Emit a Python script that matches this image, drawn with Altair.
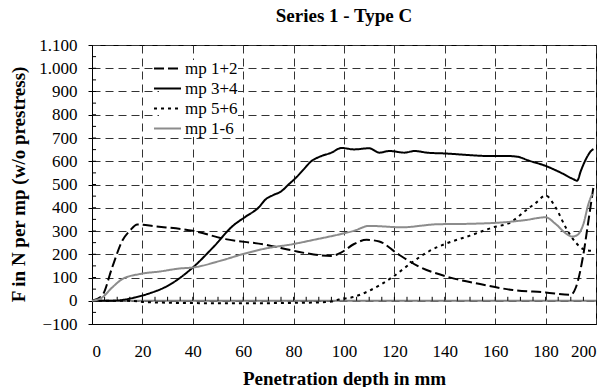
import altair as alt
import pandas as pd

# ---------------- data ----------------
series_names = ["mp 1+2", "mp 3+4", "mp 5+6", "mp 1-6"]

mp12_x = [0, 4, 8, 12, 15, 18, 25, 40, 53, 69, 80, 88, 95, 99, 104, 109, 114, 121, 129, 141, 154, 167, 180, 190, 192, 195, 197, 199]
mp12_y = [0, 22, 143, 258, 301, 328, 320, 301, 265, 241, 215, 199, 193, 208, 244, 262, 255, 204, 151, 103, 72, 46, 36, 26, 57, 200, 344, 490]

mp34_x = [0, 8, 17, 22, 30, 40, 48, 56, 61, 66, 69, 72, 75, 78, 81, 84, 87, 90, 95, 99, 104, 110, 114, 118, 124, 128, 133, 141, 149, 156, 164, 169, 173, 180, 186, 191, 192.5, 194, 196, 198, 199]
mp34_y = [0, 0, 14, 29, 64, 143, 229, 323, 362, 400, 437, 455, 470, 500, 530, 565, 600, 618, 637, 657, 651, 656, 637, 644, 637, 644, 637, 633, 627, 623, 623, 619, 604, 580, 551, 523, 516, 559, 609, 644, 652]

mp56_x = [0, 10, 18, 20, 40, 60, 80, 90, 95, 98, 104, 110, 119, 127, 134, 141, 150, 159, 166, 172, 176, 180, 184, 188, 192, 195, 198]
mp56_y = [0, 0, -2, -5, -10, -11, -9, -7, -3, 5, 17, 43, 100, 165, 215, 248, 280, 315, 337, 387, 420, 452, 401, 315, 250, 222, 215]

mp16_x = [0, 4, 8, 12, 19, 27, 35, 40, 51, 60, 69, 80, 88, 98, 104, 110, 123, 137, 150, 163, 172, 180, 184, 188, 190.5, 192.5, 195, 197, 198.5]
mp16_y = [0, 14, 57, 93, 115, 126, 139, 143, 172, 201, 225, 244, 262, 285, 301, 322, 316, 329, 331, 337, 347, 359, 330, 290, 276, 282, 330, 416, 460]

x_tick_values = list(range(0, 201, 20))
y_tick_values = list(range(-100, 1101, 100))
y_minor_ticks = list(range(-50, 1100, 50))
x_minor_ticks = list(range(5, 200, 5))

series_colors = ["#000000", "#000000", "#000000", "#8c8c8c"]
series_dashes = [[10, 4], [1, 0], [3, 4], [1, 0]]

# ---------------- tables ----------------
rows = []
for name, xs, ys in zip(series_names, [mp12_x, mp34_x, mp56_x, mp16_x], [mp12_y, mp34_y, mp56_y, mp16_y]):
    for i, (xv, yv) in enumerate(zip(xs, ys)):
        rows.append({"series": name, "depth": xv, "force": yv, "order": i})
df = pd.DataFrame(rows)

zero_df = pd.DataFrame({"force": [0]})
ymin_df = pd.DataFrame({"force": y_minor_ticks, "depth": [0] * len(y_minor_ticks), "depth2": [1.6] * len(y_minor_ticks)})
xmin_df = pd.DataFrame({"depth": x_minor_ticks, "force": [0] * len(x_minor_ticks), "force2": [17] * len(x_minor_ticks)})

FONT = "Liberation Serif, Times New Roman, serif"
x_scale = alt.Scale(domain=[0, 200], nice=False, zero=False)
y_scale = alt.Scale(domain=[-100, 1100], nice=False, zero=False)

x_axis = alt.Axis(
    values=x_tick_values, title="Penetration depth in mm", grid=True,
    gridDash=[8, 5], gridColor="#333333", gridWidth=1,
    ticks=False, domain=True, domainColor="#000000",
    labelFont=FONT, labelFontSize=17, labelColor="#000000",
    labelBaseline="alphabetic", labelPadding=32,
    titleFont=FONT, titleFontSize=19, titleFontWeight="bold", titleColor="#000000",
    titleBaseline="alphabetic", titleY=60,
)
y_axis = alt.Axis(
    values=y_tick_values, title="F in N per mp (w/o prestress)", grid=True,
    gridDash=[8, 5], gridColor="#333333", gridWidth=1,
    ticks=True, tickSize=4, tickColor="#000000", domain=True, domainColor="#000000",
    labelFont=FONT, labelFontSize=17, labelColor="#000000", labelPadding=11,
    labelExpr="replace(format(datum.value, ','), ',', '.')",
    titleFont=FONT, titleFontSize=19, titleFontWeight="bold", titleColor="#000000",
    titleX=-68, titleY=139, titleAngle=-90, titleBaseline="alphabetic",
)

zero_line = alt.Chart(zero_df).mark_rule(color="#808080", strokeWidth=2).encode(
    y=alt.Y("force:Q", scale=y_scale, axis=y_axis)
)
y_ticks_in = alt.Chart(ymin_df).mark_rule(color="#000000", strokeWidth=1).encode(
    x=alt.X("depth:Q", scale=x_scale, axis=x_axis), x2="depth2:Q",
    y=alt.Y("force:Q", scale=y_scale, axis=y_axis),
)
x_ticks_in = alt.Chart(xmin_df).mark_rule(color="#000000", strokeWidth=1).encode(
    x=alt.X("depth:Q", scale=x_scale, axis=x_axis),
    y=alt.Y("force:Q", scale=y_scale, axis=y_axis), y2="force2:Q",
)

legend = alt.Legend(title=None)
lines = alt.Chart(df).mark_line(strokeWidth=2, interpolate="monotone").encode(
    x=alt.X("depth:Q", scale=x_scale, axis=x_axis),
    y=alt.Y("force:Q", scale=y_scale, axis=y_axis),
    color=alt.Color("series:N", scale=alt.Scale(domain=series_names, range=series_colors), legend=legend),
    strokeDash=alt.StrokeDash("series:N", scale=alt.Scale(domain=series_names, range=series_dashes), legend=legend),
    order="order:Q",
)

chart = alt.layer(zero_line, y_ticks_in, x_ticks_in, lines).properties(
    width=504, height=279,
    autosize=alt.AutoSizeParams(type="none"),
    padding={"left": 92, "top": 45, "right": 15, "bottom": 63},
    title=alt.Title("Series 1 - Type C", font=FONT, fontSize=19, fontWeight="bold",
                    color="#000000", anchor="middle", baseline="alphabetic", offset=19, dy=24),
    background="#ffffff",
).configure(
    font=FONT
).configure_view(
    stroke="#000000", strokeWidth=1
).configure_legend(
    orient="none", legendX=67, legendY=15, padding=0, fillColor="#ffffff",
    symbolType="M-2,0H2", symbolSize=182, symbolStrokeWidth=2, symbolFillColor="transparent",
    labelFont=FONT, labelFontSize=17, labelColor="#000000", labelOffset=9,
    rowPadding=2, labelLimit=200,
)

chart.save("out.html", embed_options={"renderer": "svg", "actions": False})
